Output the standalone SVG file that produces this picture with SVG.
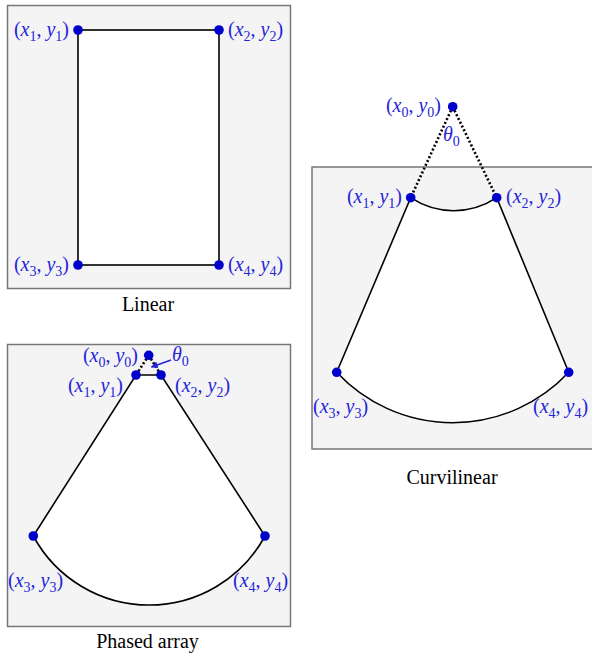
<svg xmlns="http://www.w3.org/2000/svg" width="592" height="658" viewBox="0 0 592 658">
<defs>
<style>
.panel{fill:#f4f4f4;stroke:#777;stroke-width:1.5}
.shape{fill:#fff;stroke:#000;stroke-width:1.6}
.dot-line{fill:none;stroke:#000;stroke-width:2.6;stroke-dasharray:2 2.2}
.pt{fill:#0000cc}
text{font-family:'Liberation Serif','Times New Roman',Tinos,'DejaVu Serif',serif}
.lbl{font-size:20px;fill:#2424d8}
.v{font-style:italic}
.s{font-size:14px}
.cap{font-size:20px;fill:#000;text-anchor:middle}
.arr{stroke:#2424d8;stroke-width:1.5;fill:none}
</style>
<marker id="ah" viewBox="0 0 10 10" refX="9" refY="5" markerWidth="7" markerHeight="7" orient="auto" markerUnits="userSpaceOnUse">
<path d="M0,0 L10,5 L0,10 z" fill="#2424d8"/>
</marker>
</defs>

<g id="linear" font-family="Liberation Serif, Times New Roman, serif">
<rect class="panel" x="7.5" y="5.5" width="283" height="283"/>
<rect class="shape" x="78" y="30" width="141" height="235"/>
<circle class="pt" cx="78" cy="30" r="4.8"/>
<circle class="pt" cx="219" cy="30" r="4.8"/>
<circle class="pt" cx="78" cy="265" r="4.8"/>
<circle class="pt" cx="219" cy="265" r="4.8"/>
<text class="lbl" x="69" y="36" text-anchor="end">(<tspan class="v">x</tspan><tspan class="s" dy="5">1</tspan><tspan dy="-5">, </tspan><tspan class="v">y</tspan><tspan class="s" dy="5">1</tspan><tspan dy="-5">)</tspan></text>
<text class="lbl" x="228" y="36">(<tspan class="v">x</tspan><tspan class="s" dy="5">2</tspan><tspan dy="-5">, </tspan><tspan class="v">y</tspan><tspan class="s" dy="5">2</tspan><tspan dy="-5">)</tspan></text>
<text class="lbl" x="69" y="271" text-anchor="end">(<tspan class="v">x</tspan><tspan class="s" dy="5">3</tspan><tspan dy="-5">, </tspan><tspan class="v">y</tspan><tspan class="s" dy="5">3</tspan><tspan dy="-5">)</tspan></text>
<text class="lbl" x="228" y="271">(<tspan class="v">x</tspan><tspan class="s" dy="5">4</tspan><tspan dy="-5">, </tspan><tspan class="v">y</tspan><tspan class="s" dy="5">4</tspan><tspan dy="-5">)</tspan></text>
<text class="cap" x="148" y="311">Linear</text>
</g>

<g id="curvilinear" font-family="Liberation Serif, Times New Roman, serif">
<rect class="panel" x="312" y="167" width="284" height="282"/>
<path class="shape" d="M410.7,197.7 A77.6,77.6 0 0 0 496.7,197.7 L568.7,372.3 A158.7,158.7 0 0 1 336.7,372.3 Z"/>
<path class="dot-line" d="M452.7,106.7 L410.7,197.7 M452.7,106.7 L496.7,197.7"/>
<circle class="pt" cx="452.7" cy="106.7" r="4.8"/>
<circle class="pt" cx="410.7" cy="197.7" r="4.8"/>
<circle class="pt" cx="496.7" cy="197.7" r="4.8"/>
<circle class="pt" cx="336.7" cy="372.3" r="4.8"/>
<circle class="pt" cx="568.7" cy="372.3" r="4.8"/>
<text class="lbl" x="441" y="112" text-anchor="end">(<tspan class="v">x</tspan><tspan class="s" dy="5">0</tspan><tspan dy="-5">, </tspan><tspan class="v">y</tspan><tspan class="s" dy="5">0</tspan><tspan dy="-5">)</tspan></text>
<text class="lbl" x="443" y="141"><tspan class="v">θ</tspan><tspan class="s" dy="5">0</tspan></text>
<text class="lbl" x="402" y="203" text-anchor="end">(<tspan class="v">x</tspan><tspan class="s" dy="5">1</tspan><tspan dy="-5">, </tspan><tspan class="v">y</tspan><tspan class="s" dy="5">1</tspan><tspan dy="-5">)</tspan></text>
<text class="lbl" x="506" y="203">(<tspan class="v">x</tspan><tspan class="s" dy="5">2</tspan><tspan dy="-5">, </tspan><tspan class="v">y</tspan><tspan class="s" dy="5">2</tspan><tspan dy="-5">)</tspan></text>
<text class="lbl" x="313" y="413">(<tspan class="v">x</tspan><tspan class="s" dy="5">3</tspan><tspan dy="-5">, </tspan><tspan class="v">y</tspan><tspan class="s" dy="5">3</tspan><tspan dy="-5">)</tspan></text>
<text class="lbl" x="533" y="413">(<tspan class="v">x</tspan><tspan class="s" dy="5">4</tspan><tspan dy="-5">, </tspan><tspan class="v">y</tspan><tspan class="s" dy="5">4</tspan><tspan dy="-5">)</tspan></text>
<text class="cap" x="452" y="484">Curvilinear</text>
</g>

<g id="phased" font-family="Liberation Serif, Times New Roman, serif">
<rect class="panel" x="7.5" y="344.5" width="283" height="282"/>
<path class="shape" d="M136,375 L161,375 L265,536 A131.7,131.7 0 0 1 33.3,536 Z"/>
<path class="dot-line" d="M148.7,355.3 L136,375 M148.7,355.3 L161,375"/>
<circle class="pt" cx="148.7" cy="355.3" r="4.8"/>
<circle class="pt" cx="136" cy="375" r="4.8"/>
<circle class="pt" cx="161" cy="375" r="4.8"/>
<circle class="pt" cx="33.3" cy="536" r="4.8"/>
<circle class="pt" cx="265" cy="536" r="4.8"/>
<text class="lbl" x="138" y="362" text-anchor="end">(<tspan class="v">x</tspan><tspan class="s" dy="5">0</tspan><tspan dy="-5">, </tspan><tspan class="v">y</tspan><tspan class="s" dy="5">0</tspan><tspan dy="-5">)</tspan></text>
<text class="lbl" x="172" y="361"><tspan class="v">θ</tspan><tspan class="s" dy="5">0</tspan></text>
<text class="lbl" x="123" y="392" text-anchor="end">(<tspan class="v">x</tspan><tspan class="s" dy="5">1</tspan><tspan dy="-5">, </tspan><tspan class="v">y</tspan><tspan class="s" dy="5">1</tspan><tspan dy="-5">)</tspan></text>
<text class="lbl" x="175" y="392">(<tspan class="v">x</tspan><tspan class="s" dy="5">2</tspan><tspan dy="-5">, </tspan><tspan class="v">y</tspan><tspan class="s" dy="5">2</tspan><tspan dy="-5">)</tspan></text>
<text class="lbl" x="8" y="587">(<tspan class="v">x</tspan><tspan class="s" dy="5">3</tspan><tspan dy="-5">, </tspan><tspan class="v">y</tspan><tspan class="s" dy="5">3</tspan><tspan dy="-5">)</tspan></text>
<text class="lbl" x="233" y="587">(<tspan class="v">x</tspan><tspan class="s" dy="5">4</tspan><tspan dy="-5">, </tspan><tspan class="v">y</tspan><tspan class="s" dy="5">4</tspan><tspan dy="-5">)</tspan></text>
<text class="cap" x="147.5" y="648">Phased array</text>
</g>

<g id="connectors">
<line class="arr" x1="171" y1="360" x2="151.5" y2="367" marker-end="url(#ah)"/>
</g>
</svg>
